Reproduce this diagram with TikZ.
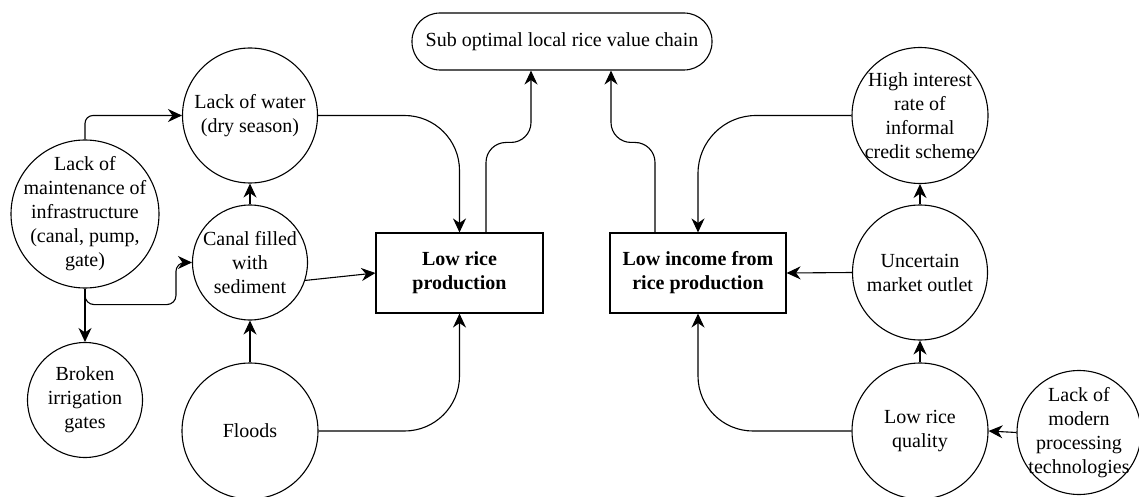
\documentclass[tikz,border=0pt]{standalone}
\usepackage{fontspec}
\setmainfont{Liberation Serif}
\usetikzlibrary{arrows.meta}

\begin{document}
\begin{tikzpicture}[x=1pt,y=1pt,line width=1.1pt,
  font=\fontsize{20}{24}\selectfont,
  cause/.style={draw,circle,inner sep=0pt},
  txt/.style={align=center,inner sep=0pt},
  effect/.style={draw,minimum width=#1,minimum height=80,align=center,
    font=\fontsize{20}{24}\selectfont\bfseries},
  arr/.style={-{Stealth[length=14pt,width=13pt,inset=4.5pt]}}]
  \useasboundingbox (0,0) rectangle (1139,496);

  % top
  \node[draw,rounded corners=28,minimum width=300,minimum height=57]
    (chain) at (562,454.5) {Sub optimal local rice value chain};

  % effects
  \node[effect=167] (lrp) at (459.5,223) {Low rice\\production};
  \node[effect=176] (lip) at (698,223) {Low income from\\rice production};

  % left causes
  \node[cause,minimum size=135] (water) at (250,380.5) {};
  \node[txt] (water-t) at (water) {Lack of water\\(dry season)};
  \node[cause,minimum size=148] (maint) at (85,282) {};
  \node[txt] (maint-t) at (maint)
    {Lack of\\maintenance of\\infrastructure\\(canal, pump,\\gate)};
  \node[cause,minimum size=115] (canal) at (250,233.5) {};
  \node[txt] (canal-t) at (canal) {Canal filled\\with\\sediment};
  \node[cause,minimum size=115] (broken) at (85,96) {};
  \node[txt] (broken-t) at (broken) {Broken\\irrigation\\gates};
  \node[cause,minimum size=136] (floods) at (250,65) {};
  \node[txt] (floods-t) at (floods) {Floods};

  % right causes
  \node[cause,minimum size=136] (interest) at (920,380.5) {};
  \node[txt] (interest-t) at (interest)
    {High interest\\rate of\\informal\\credit scheme};
  \node[cause,minimum size=135] (market) at (920,223.5) {};
  \node[txt] (market-t) at (market) {Uncertain\\market outlet};
  \node[cause,minimum size=136] (quality) at (920,65) {};
  \node[txt] (quality-t) at (quality) {Low rice\\quality};
  \node[cause,minimum size=124] (modern) at (1079,63.5) {};
  \node[txt] (modern-t) at (modern)
    {Lack of\\modern\\processing\\technologies};

  % left arrows
  \draw[arr,rounded corners=8] (maint.north) |- (water.west);
  \draw[arr] (maint.south) -- (broken.north);
  \draw[arr,rounded corners=9] (maint.south) -- ++(0,-16)
    -| ([xshift=-16]canal.west) -- (canal.west);
  \draw[arr] (canal.north) -- (water.south);
  \draw[arr] (floods.north) -- (canal.south);
  \draw[arr] (canal.-18) -- (lrp.west);
  \draw[arr,rounded corners=55] (water.east) -| (lrp.north);
  \draw[arr,rounded corners=55] (floods.east) -| (lrp.south);

  % right arrows
  \draw[arr,rounded corners=58] (interest.west) -| (lip.north);
  \draw[arr] (market.west) -- (lip.east);
  \draw[arr] (market.north) -- (interest.south);
  \draw[arr] (quality.north) -- (market.south);
  \draw[arr,rounded corners=55] (quality.west) -| (lip.south);
  \draw[arr] (modern.west) -- (quality.east);

  % to the top
  \draw[arr,rounded corners=20] ([xshift=26.5]lrp.north) -- ++(0,90)
    -| ([xshift=-31]chain.south);
  \draw[arr,rounded corners=20] ([xshift=-43]lip.north) -- ++(0,90)
    -| ([xshift=49]chain.south);
\end{tikzpicture}
\end{document}
